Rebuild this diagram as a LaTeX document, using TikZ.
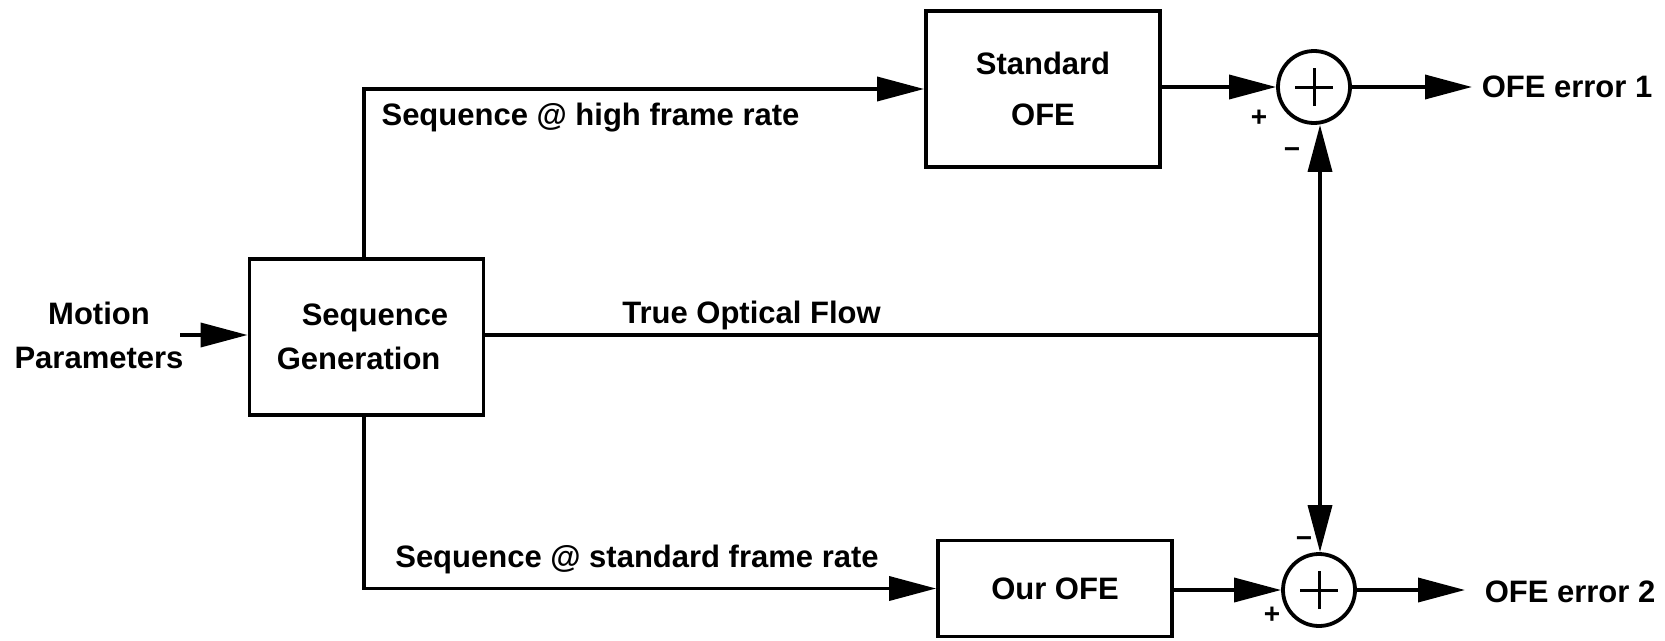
\documentclass[tikz,border=0pt]{standalone}
\usepackage{fontspec}
\setmainfont{Liberation Sans}
\usetikzlibrary{arrows.meta}
\begin{document}
\begin{tikzpicture}[x=1pt,y=-1pt,
  line width=3.6pt,
  every node/.style={font=\bfseries\fontsize{31}{37}\selectfont},
  block/.style={draw, rectangle, line width=3.8pt, minimum width=234pt,
    minimum height=156pt, inner sep=0pt, align=center},
  sumnode/.style={draw, circle, line width=3.8pt, minimum size=72pt, inner sep=0pt,
    path picture={
      \draw[line width=3pt]
        ([xshift=-19pt]path picture bounding box.center) --
        ([xshift=19pt]path picture bounding box.center)
        ([yshift=-19pt]path picture bounding box.center) --
        ([yshift=19pt]path picture bounding box.center);}},
  sig/.style={-{Triangle[length=47pt,width=24pt]}},
  sign/.style={font=\bfseries\fontsize{28}{32}\selectfont, inner sep=0pt},
  lbl/.style={inner sep=0pt}
]
\useasboundingbox (0,0) rectangle (1665,640);

% processing blocks
\node[block, align=left] (gen) at (366.5,337)
  {\hspace*{25pt}Sequence\hspace*{8pt}\\[7pt]Generation\hspace*{8pt}};
\node[block] (std) at (1043,89) {Standard\\[14pt]OFE};
\node[block, minimum height=96pt] (our) at (1055,588.5) {Our OFE};

% summing junctions
\node[sumnode] (s1) at (1314,87) {};
\node[sumnode] (s2) at (1319,590) {};

% input
\node[lbl, align=center] (mp) at (99,335) {Motion\\[7pt]Parameters};
\coordinate (in) at (180,335);
\draw[sig] (in) -- (in -| gen.west);

% the two sequence branches
\coordinate (vx) at (364,0);
\draw[sig] (gen.north -| vx) |- (std.west);
\draw[sig] (gen.south -| vx) |- (our.west);
\node[lbl, anchor=base] (hi) at (590.5,125) {Sequence @ high frame rate};
\node[lbl, anchor=base] (lo) at (637,567) {Sequence @ standard frame rate};

% ground truth branch
\coordinate (j) at (1320,335);
\draw (gen.east |- j) -- (j);
\node[lbl, anchor=base] (tof) at (751.5,323) {True Optical Flow};
\draw[sig] (j) -- (j |- s1.south);
\draw[sig] (j) -- (j |- s2.north);

% estimator outputs into the junctions
\draw[sig] (std.east |- s1.west) -- (s1.west);
\draw[sig] (our.east |- s2.west) -- (s2.west);

% signs at the junction inputs
\node[sign] (p1) at (1259,118) {+};
\node[sign] (m1) at (1292,153) {−};
\node[sign] (m2) at (1304,542) {−};
\node[sign] (p2) at (1272,615) {+};

% error outputs
\node[lbl, anchor=west, inner xsep=8pt] (e1) at (1472,87) {OFE error 1};
\node[lbl, anchor=west, inner xsep=18pt] (e2) at (1465,592) {OFE error 2};
\draw[sig] (s1.east) -- (e1.west);
\draw[sig] (s2.east) -- (s2.east -| e2.west);
\end{tikzpicture}
\end{document}
